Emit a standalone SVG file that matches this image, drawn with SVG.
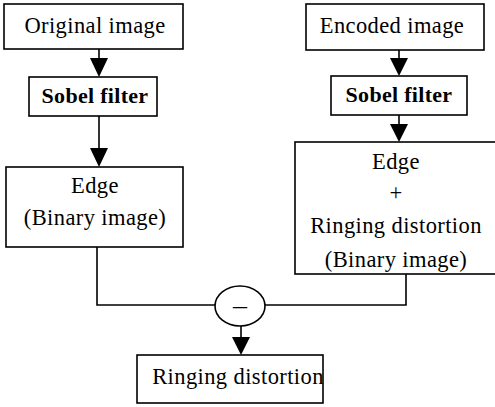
<svg xmlns="http://www.w3.org/2000/svg" width="495" height="407" viewBox="0 0 495 407">
<style>
.box{fill:#fff;stroke:#000;stroke-width:1.6}
.t{font-family:"Liberation Serif","Times New Roman",serif;font-size:22.5px;letter-spacing:0.4px;fill:#000;text-anchor:middle}
.b{font-weight:bold;font-size:22px;letter-spacing:0.3px}
.m{font-size:28px;letter-spacing:0}
.c{fill:none;stroke:#000;stroke-width:1.6}
.ah{fill:#000}
</style>
<g id="connectors">
<line class="c" x1="99" y1="49" x2="99" y2="58"/>
<path class="ah" d="M90,58 L108,58 L99,77 Z"/>
<line class="c" x1="99" y1="116" x2="99" y2="148"/>
<path class="ah" d="M90,148 L108,148 L99,167 Z"/>
<line class="c" x1="399" y1="50" x2="399" y2="58"/>
<path class="ah" d="M390,58 L408,58 L399,76 Z"/>
<line class="c" x1="399" y1="115" x2="399" y2="124"/>
<path class="ah" d="M390,124 L408,124 L399,142 Z"/>
<polyline class="c" points="97,247 97,305 215,305"/>
<polyline class="c" points="406,274 406,305 265,305"/>
<line class="c" x1="241" y1="326" x2="241" y2="337"/>
<path class="ah" d="M232,337 L250,337 L241,355 Z"/>
</g>
<g id="original">
<rect class="box" x="4" y="4" width="179" height="45"/>
<text class="t" x="95" y="33">Original image</text>
</g>
<g id="sobel1">
<rect class="box" x="29" y="77" width="128" height="39"/>
<text class="t b" x="95" y="103">Sobel filter</text>
</g>
<g id="edge1">
<rect class="box" x="6" y="167" width="177" height="80"/>
<text class="t" x="95" y="193">Edge</text>
<text class="t" x="95" y="225">(Binary image)</text>
</g>
<g id="encoded">
<rect class="box" x="306" y="4" width="178" height="46"/>
<text class="t" x="392" y="33">Encoded image</text>
</g>
<g id="sobel2">
<rect class="box" x="331" y="76" width="136" height="39"/>
<text class="t b" x="399" y="102">Sobel filter</text>
</g>
<g id="edge2">
<rect class="box" x="295" y="142" width="205" height="132"/>
<text class="t" x="396" y="169">Edge</text>
<text class="t" x="396" y="200">+</text>
<text class="t" x="396" y="233">Ringing distortion</text>
<text class="t" x="396" y="267">(Binary image)</text>
</g>
<g id="minus">
<ellipse class="box" cx="240" cy="306" rx="25" ry="20"/>
<text class="t m" x="240" y="314">–</text>
</g>
<g id="ringing">
<rect class="box" x="137" y="355" width="186" height="48"/>
<text class="t" x="238" y="384">Ringing distortion</text>
</g>
</svg>
